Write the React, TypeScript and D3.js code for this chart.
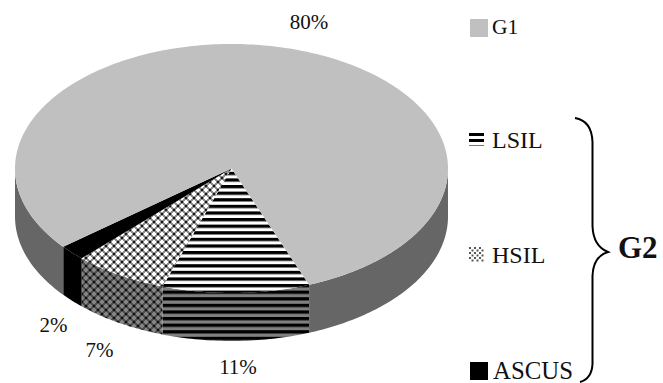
import React from "react";
import * as d3 from "d3";

const sliceNames = ["LSIL", "HSIL", "ASCUS", "G1"];
const sliceValues = [11, 7, 2, 80];
const percentLabels = ["11%", "7%", "2%", "80%"];
const legendOrder = ["G1", "LSIL", "HSIL", "ASCUS"];

const W = 663;
const H = 383;
const cx = 231.5;
const cy = 168.5;
const rx = 216.5;
const ry = 124.5;
const depth = 48;
const FONT = "'Liberation Serif', 'Times New Roman', serif";

const topFill: Record<string, string> = {
  G1: "#c0c0c0",
  LSIL: "url(#stripeTop)",
  HSIL: "url(#latticeTop)",
  ASCUS: "#000000",
};
const wallFill: Record<string, string> = {
  G1: "#666666",
  LSIL: "url(#stripeWall)",
  HSIL: "url(#latticeWall)",
  ASCUS: "#000000",
};

const pieLayout = d3
  .pie<number>()
  .sort(null)
  .startAngle((159 * Math.PI) / 180)
  .endAngle((519 * Math.PI) / 180);
const arcs = pieLayout(sliceValues);

// Elliptical projection of a pie angle (0 = top, clockwise).
const px = (a: number) => cx + rx * Math.sin(a);
const py = (a: number) => cy - ry * Math.cos(a);

function samples(a0: number, a1: number) {
  const n = Math.max(2, Math.ceil(((a1 - a0) * 180) / Math.PI));
  return d3.range(n + 1).map((i) => a0 + ((a1 - a0) * i) / n);
}

const topLine = d3.line<number>().x(px).y(py);
function topPath(a0: number, a1: number) {
  const rim = topLine(samples(a0, a1))!;
  return `M${cx},${cy}L${rim.slice(1)}Z`;
}

const wallArea = d3
  .area<number>()
  .x(px)
  .y0(py)
  .y1((a) => py(a) + depth);

// Only the part of a slice facing the viewer (90° to 270°, modulo a full turn) has a wall.
function wallPath(a0: number, a1: number) {
  const lo = Math.max(a0, Math.PI / 2);
  const hi = Math.min(a1, (3 * Math.PI) / 2);
  if (hi <= lo) return null;
  return wallArea(samples(lo, hi));
}

const labelPositions: Record<string, [number, number]> = {
  "80%": [309, 29],
  "11%": [238, 374],
  "7%": [99.5, 357],
  "2%": [53.5, 332],
};

const legendRows: Record<string, { x: number; baseline: number; size: number }> = {
  G1: { x: 492, baseline: 34, size: 21.5 },
  LSIL: { x: 492, baseline: 148, size: 24 },
  HSIL: { x: 492, baseline: 263, size: 24 },
  ASCUS: { x: 493, baseline: 379, size: 24.8 },
};

// One staggered cross lattice tile: crosses in `light`, dots in `dark` over `base`.
function Lattice({ id, base, light, dark }: { id: string; base: string; light: string; dark: string }) {
  return (
    <pattern id={id} patternUnits="userSpaceOnUse" width={8} height={8}>
      <rect width={8} height={8} fill={base} />
      {[
        [2, 2],
        [6, 6],
      ].map(([x, y]) => (
        <g key={`c${x}`} fill={light}>
          <rect x={x - 2} y={y - 1} width={4} height={2} />
          <rect x={x - 1} y={y - 2} width={2} height={4} />
        </g>
      ))}
      {[
        [6, 2],
        [2, 6],
      ].map(([x, y]) => (
        <rect key={`d${x}`} x={x - 1} y={y - 1} width={2} height={2} fill={dark} />
      ))}
    </pattern>
  );
}

export default function App() {
  return (
    <svg
      width={W}
      height={H}
      viewBox={`0 0 ${W} ${H}`}
      style={{ position: "fixed", left: 0, top: 0, background: "#fff" }}
    >
      <defs>
        <pattern id="stripeTop" patternUnits="userSpaceOnUse" width={8} height={6.6} y={0.2}>
          <rect width={8} height={6.6} fill="#fff" />
          <rect width={8} height={3.3} fill="#000" />
        </pattern>
        <pattern id="stripeWall" patternUnits="userSpaceOnUse" width={8} height={6.6} y={0.2}>
          <rect width={8} height={6.6} fill="#808080" />
          <rect width={8} height={3.3} fill="#000" />
        </pattern>
        <Lattice id="latticeTop" base="#8c8c8c" light="#ffffff" dark="#1a1a1a" />
        <Lattice id="latticeWall" base="#4d4d4d" light="#858585" dark="#111111" />
        <pattern id="latticeKey" patternUnits="userSpaceOnUse" width={5} height={5} x={469} y={247}>
          <rect width={5} height={5} fill="#fff" />
          <rect x={0} y={0} width={2} height={2} fill="#555" />
          <rect x={2.5} y={2.5} width={2} height={2} fill="#555" />
        </pattern>
      </defs>

      {arcs.map((d, i) => {
        const wall = wallPath(d.startAngle, d.endAngle);
        const turned = wallPath(d.startAngle - 2 * Math.PI, d.endAngle - 2 * Math.PI);
        return (
          <g key={`wall-${sliceNames[i]}`} fill={wallFill[sliceNames[i]]}>
            {wall && <path d={wall} />}
            {turned && <path d={turned} />}
          </g>
        );
      })}
      {arcs.map((d, i) => (
        <path
          key={`top-${sliceNames[i]}`}
          d={topPath(d.startAngle, d.endAngle)}
          fill={topFill[sliceNames[i]]}
        />
      ))}

      <g fontFamily={FONT} fontSize={21} fill="#111" textAnchor="middle">
        {percentLabels.map((t) => (
          <text key={t} x={labelPositions[t][0]} y={labelPositions[t][1]}>
            {t}
          </text>
        ))}
      </g>

      <rect x={470} y={19} width={18} height={18} fill={topFill.G1} />
      <g fill="#000">
        <rect x={469} y={133} width={15} height={3} />
        <rect x={469} y={139} width={15} height={3} />
      </g>
      <rect x={469} y={145} width={15} height={1} fill="#777" />
      <rect x={469} y={247} width={15} height={15} fill="url(#latticeKey)" />
      <rect x={470} y={362} width={18} height={18} fill={topFill.ASCUS} />

      <g fontFamily={FONT} fill="#111">
        {legendOrder.map((name) => (
          <text
            key={name}
            x={legendRows[name].x}
            y={legendRows[name].baseline}
            fontSize={legendRows[name].size}
          >
            {name}
          </text>
        ))}
      </g>

      <path
        d="M575,118 C587,120 592,128 592.5,142 L592.5,226 C593,240 598,248 608,252 C598,255 593,262 592.5,276 L592.5,364 C592,374 587,380 580,382"
        fill="none"
        stroke="#000"
        strokeWidth={2}
      />
      <text x={618} y={258} fontFamily={FONT} fontWeight="bold" fontSize={31} fill="#111">
        G2
      </text>
    </svg>
  );
}
